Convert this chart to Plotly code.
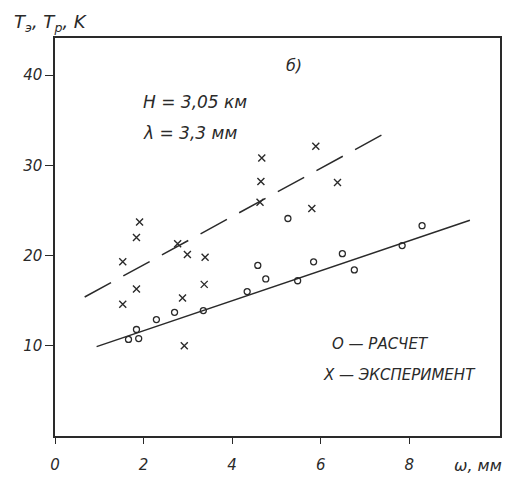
import plotly.graph_objects as go

# Data
calc_x = [1.66, 1.84, 1.89, 2.29, 2.70, 3.35, 4.34, 4.58, 4.76, 5.26, 5.48, 5.84, 6.49, 6.76, 7.84, 8.29]
calc_y = [10.7, 11.8, 10.8, 12.9, 13.7, 13.9, 16.0, 18.9, 17.4, 24.1, 17.2, 19.3, 20.2, 18.4, 21.1, 23.3]

exp_x = [1.53, 1.53, 1.84, 1.84, 1.91, 2.77, 2.88, 2.92, 2.99, 3.37, 3.39, 4.63, 4.65, 4.67, 5.80, 5.89, 6.38]
exp_y = [14.6, 19.3, 16.3, 22.0, 23.7, 21.3, 15.3, 10.0, 20.1, 16.8, 19.8, 25.9, 28.2, 30.8, 25.2, 32.1, 28.1]

calc_fit_x = [0.94, 9.37]
calc_fit_y = [9.9, 23.9]
exp_fit_x = [0.67, 7.51]
exp_fit_y = [15.4, 33.7]

x_ticks = [0, 2, 4, 6, 8]
y_ticks = [10, 20, 30, 40]

INK = "#2a2a2a"
FONT = dict(family="DejaVu Sans", size=14, color=INK, style="italic")

fig = go.Figure()
fig.add_trace(go.Scatter(x=calc_fit_x, y=calc_fit_y, mode="lines",
                         line=dict(color=INK, width=1.5), showlegend=False))
fig.add_trace(go.Scatter(x=exp_fit_x, y=exp_fit_y, mode="lines",
                         line=dict(color=INK, width=1.5, dash="30px,14px"), showlegend=False))
fig.add_trace(go.Scatter(x=calc_x, y=calc_y, mode="markers",
                         marker=dict(symbol="circle-open", size=6, color=INK,
                                     line=dict(width=1.3, color=INK)),
                         showlegend=False))
fig.add_trace(go.Scatter(x=exp_x, y=exp_y, mode="markers",
                         marker=dict(symbol="x-thin-open", size=7, color=INK,
                                     line=dict(width=1.4, color=INK)),
                         showlegend=False))

ann = [
    dict(x=5.39, y=41.1, text="б)", xanchor="center", yanchor="middle", font=dict(size=16)),
    dict(x=1.95, y=37.0, text="H = 3,05 км", xanchor="left", yanchor="middle", font=dict(size=17)),
    dict(x=1.95, y=33.6, text="λ = 3,3 мм", xanchor="left", yanchor="middle", font=dict(size=17)),
    dict(x=6.2, y=10.2, text="O — РАСЧЕТ", xanchor="left", yanchor="middle", font=dict(size=15)),
    dict(x=6.0, y=6.8, text="X — ЭКСПЕРИМЕНТ", xanchor="left", yanchor="middle", font=dict(size=15)),
]
annotations = []
for a in ann:
    f = dict(FONT)
    f.update(a.pop("font"))
    annotations.append(dict(a, xref="x", yref="y", showarrow=False, font=f))

annotations.append(dict(xref="paper", yref="paper", x=-0.096, y=1.0375, xanchor="left",
                        yanchor="middle", showarrow=False,
                        text="T<sub>э</sub>, T<sub>р</sub>, K", font=dict(FONT, size=18)))
annotations.append(dict(xref="paper", yref="paper", x=1.01, y=-0.073, xanchor="right",
                        yanchor="middle", showarrow=False,
                        text="ω, мм", font=dict(FONT, size=16)))

fig.update_layout(
    width=509, height=481,
    margin=dict(l=55, r=7, t=38, b=43),
    paper_bgcolor="white", plot_bgcolor="white",
    font=FONT,
    annotations=annotations,
    xaxis=dict(range=[0, 10.05], tickvals=x_ticks, ticktext=[str(v) for v in x_ticks],
               showgrid=False, zeroline=False, showline=True, linecolor=INK, linewidth=1.5,
               mirror=True, ticks="outside", ticklen=6, tickcolor=INK, tickwidth=1.3,
               ticklabelstandoff=8, tickfont=dict(FONT, size=15)),
    yaxis=dict(range=[0, 44.1], tickvals=y_ticks, ticktext=[str(v) for v in y_ticks],
               showgrid=False, zeroline=False, showline=True, linecolor=INK, linewidth=1.5,
               mirror=True, ticks="outside", ticklen=8, tickcolor=INK, tickwidth=1.3,
               ticklabelstandoff=0, tickfont=dict(FONT, size=15)),
)

fig.write_html("out.html")
